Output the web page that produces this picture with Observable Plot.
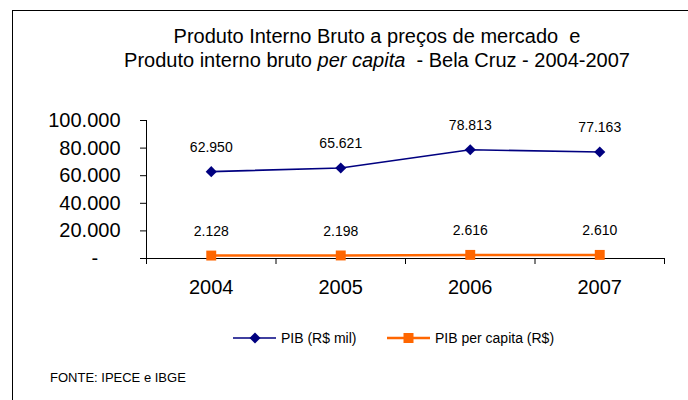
<!DOCTYPE html>
<html>
<head>
<meta charset="utf-8">
<script src="https://cdn.jsdelivr.net/npm/d3@7"></script>
<script src="https://cdn.jsdelivr.net/npm/@observablehq/plot@0.6"></script>
<style>
  html, body { margin: 0; padding: 0; background: #fff; overflow: hidden; }
  #wrap { position: relative; width: 688px; height: 400px; font-family: "Liberation Sans", Arial, sans-serif; color: #000; }
  #wrap svg.plot { position: absolute; left: 0; top: 0; }
  .frameTop { position: absolute; left: 12px; top: 10px; width: 676px; height: 0; border-top: 1px solid #000; }
  .frameLeft { position: absolute; left: 12px; top: 10px; width: 0; height: 390px; border-left: 1px solid #000; }
  .title { position: absolute; left: 377px; transform: translateX(-50%); white-space: pre; font-size: 20px; line-height: 20px; }
  .legItem { position: absolute; top: 330px; height: 16px; display: flex; align-items: center; font-size: 14px; white-space: nowrap; }
  .legItem svg { margin-right: 5px; }
  .footer { position: absolute; left: 50px; top: 371px; font-size: 13px; line-height: 13px; white-space: nowrap; }
</style>
</head>
<body>
<div id="wrap"></div>
<script>
const years = [2004, 2005, 2006, 2007];
const pib = [62950, 65621, 78813, 77163];            // PIB (R$ mil)
const pibPerCapita = [2128, 2198, 2616, 2610];       // PIB per capita (R$)
const yTicks = [0, 20000, 40000, 60000, 80000, 100000];
const categoryEdges = [2003.5, 2004.5, 2005.5, 2006.5, 2007.5];
const titleLine1 = "Produto Interno Bruto a preços de mercado  e";
const titleLine2a = "Produto interno bruto ";
const titleLine2b = "per capita";
const titleLine2c = "  - Bela Cruz - 2004-2007";
const seriesNames = ["PIB (R$ mil)", "PIB per capita (R$)"];
const seriesColors = ["#000080", "#FF6600"];
const footerText = "FONTE: IPECE e IBGE";

const locale = d3.formatLocale({decimal: ",", thousands: ".", grouping: [3], currency: ["R$ ", ""]});
const fmt = locale.format(",d");
const yFmt = d => d === 0 ? "-\u2007\u2007" : fmt(d);

const rows = years.map((year, i) => ({year, pib: pib[i], perCapita: pibPerCapita[i]}));

const chart = Plot.plot({
  width: 688,
  height: 400,
  marginLeft: 146,
  marginRight: 24,
  marginTop: 120,
  marginBottom: 142,
  style: {fontFamily: "'Liberation Sans', Arial, sans-serif", background: "transparent", color: "#000", overflow: "visible"},
  x: {domain: [2003.5, 2007.5], axis: null},
  y: {domain: [0, 100000], axis: null},
  marks: [
    Plot.axisY({ticks: yTicks, tickSize: 6, tickPadding: 20, tickFormat: yFmt, fontSize: 20, label: null}),
    Plot.axisX({ticks: years, tickSize: 0, tickPadding: 21, tickFormat: d => String(d), fontSize: 20, label: null}),
    Plot.axisX({ticks: categoryEdges, tickSize: 6, tickFormat: () => "", label: null}),
    Plot.ruleX([2003.5], {y1: 0, y2: 100000, stroke: "#000"}),
    Plot.ruleY([0], {stroke: "#000"}),
    Plot.line(rows, {x: "year", y: "pib", stroke: seriesColors[0], strokeWidth: 1.6}),
    Plot.dot(rows, {x: "year", y: "pib", symbol: "diamond2", r: 5, fill: seriesColors[0], stroke: "none"}),
    Plot.line(rows, {x: "year", y: "perCapita", stroke: seriesColors[1], strokeWidth: 2.5}),
    Plot.dot(rows, {x: "year", y: "perCapita", symbol: "square", r: 5.6, fill: seriesColors[1], stroke: "none"}),
    Plot.text(rows, {x: "year", y: "pib", text: d => fmt(d.pib), dy: -24, fontSize: 14, fill: "#000"}),
    Plot.text(rows, {x: "year", y: "perCapita", text: d => fmt(d.perCapita), dy: -24, fontSize: 14, fill: "#000"})
  ]
});
chart.classList.add("plot");

const wrap = document.getElementById("wrap");
wrap.appendChild(chart);

function el(tag, cls, html, style) {
  const e = document.createElement(tag);
  if (cls) e.className = cls;
  if (html != null) e.innerHTML = html;
  if (style) Object.assign(e.style, style);
  wrap.appendChild(e);
  return e;
}
el("div", "frameTop");
el("div", "frameLeft");
const t1 = el("div", "title", null, {top: "26px"});
t1.textContent = titleLine1;
const t2 = el("div", "title", null, {top: "50px"});
t2.append(document.createTextNode(titleLine2a));
const it = document.createElement("i"); it.textContent = titleLine2b; t2.append(it);
t2.append(document.createTextNode(titleLine2c));

const leg1 = el("div", "legItem", null, {left: "233px"});
leg1.innerHTML = `<svg width="43" height="12"><line x1="0" y1="6" x2="43" y2="6" stroke="${seriesColors[0]}" stroke-width="1.6"/><polygon points="22,0.5 27.5,6 22,11.5 16.5,6" fill="${seriesColors[0]}"/></svg>`;
leg1.append(document.createTextNode(seriesNames[0]));
const leg2 = el("div", "legItem", null, {left: "387px"});
leg2.innerHTML = `<svg width="43" height="12"><line x1="0" y1="6" x2="43" y2="6" stroke="${seriesColors[1]}" stroke-width="2.5"/><rect x="16.5" y="1" width="10" height="10" fill="${seriesColors[1]}"/></svg>`;
leg2.append(document.createTextNode(seriesNames[1]));
const ft = el("div", "footer");
ft.textContent = footerText;
</script>
</body>
</html>
